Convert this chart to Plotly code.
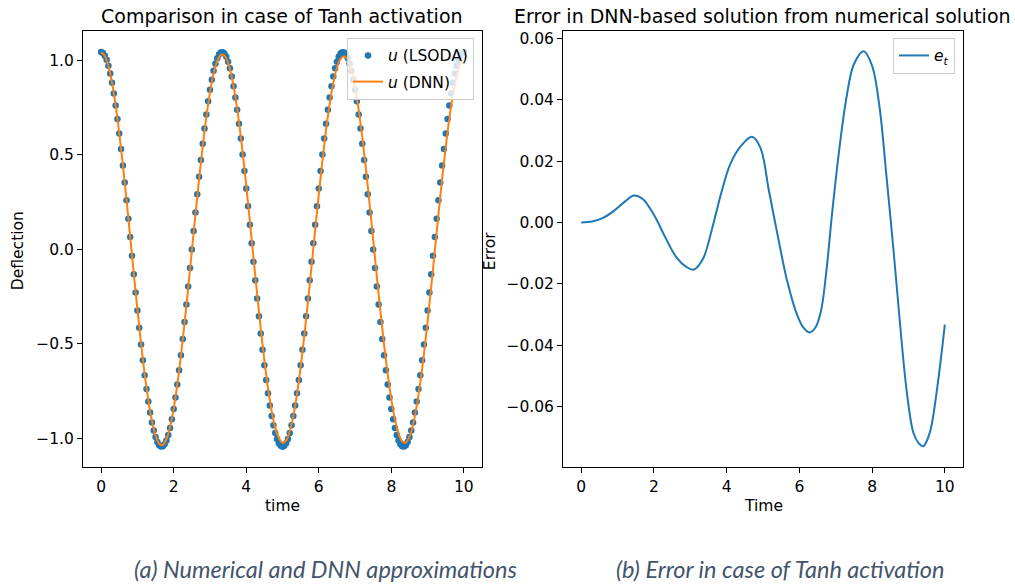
import numpy as np
import plotly.graph_objects as go

# ---------------- data ----------------
t_lsoda = np.linspace(0, 10, 201)
u_lsoda = [
    1.045, 1.040, 1.026, 1.004, 0.972, 0.931, 0.882, 0.826, 0.762, 0.691,
    0.614, 0.532, 0.445, 0.354, 0.260, 0.163, 0.066, -0.033, -0.131, -0.228,
    -0.323, -0.415, -0.503, -0.587, -0.666, -0.739, -0.805, -0.864, -0.916, -0.959,
    -0.994, -1.020, -1.037, -1.044, -1.043, -1.032, -1.012, -0.983, -0.946, -0.899,
    -0.845, -0.784, -0.715, -0.640, -0.560, -0.474, -0.385, -0.292, -0.196, -0.098,
    0.000, 0.098, 0.196, 0.292, 0.385, 0.474, 0.560, 0.640, 0.715, 0.784,
    0.845, 0.899, 0.946, 0.983, 1.012, 1.032, 1.043, 1.044, 1.037, 1.020,
    0.994, 0.959, 0.916, 0.864, 0.805, 0.739, 0.666, 0.587, 0.503, 0.415,
    0.323, 0.228, 0.131, 0.033, -0.066, -0.163, -0.260, -0.354, -0.445, -0.532,
    -0.614, -0.691, -0.762, -0.826, -0.882, -0.931, -0.972, -1.004, -1.026, -1.040,
    -1.045,
    -1.040, -1.026, -1.004, -0.972, -0.931, -0.882, -0.826, -0.762, -0.691, -0.614,
    -0.532, -0.445, -0.354, -0.260, -0.163, -0.066, 0.033, 0.131, 0.228, 0.323,
    0.415, 0.503, 0.587, 0.666, 0.739, 0.805, 0.864, 0.916, 0.959, 0.994,
    1.020, 1.037, 1.044, 1.043, 1.032, 1.012, 0.983, 0.946, 0.899, 0.845,
    0.784, 0.715, 0.640, 0.560, 0.474, 0.385, 0.292, 0.196, 0.098, 0.000,
    -0.098, -0.196, -0.292, -0.385, -0.474, -0.560, -0.640, -0.715, -0.784, -0.845,
    -0.899, -0.946, -0.983, -1.012, -1.032, -1.043, -1.044, -1.037, -1.020, -0.994,
    -0.959, -0.916, -0.864, -0.805, -0.739, -0.666, -0.587, -0.503, -0.415, -0.323,
    -0.228, -0.131, -0.033, 0.066, 0.163, 0.260, 0.354, 0.445, 0.532, 0.614,
    0.691, 0.762, 0.826, 0.882, 0.931, 0.972, 1.004, 1.026, 1.040, 1.045,
]

t_dnn = np.linspace(0, 10, 101)
u_dnn = [
    1.045, 1.026, 0.972, 0.882, 0.763, 0.615, 0.447, 0.262, 0.069, -0.127,
    -0.318, -0.497, -0.659, -0.797, -0.907, -0.985, -1.029, -1.035, -1.006, -0.942,
    -0.843, -0.715, -0.562, -0.390, -0.203, -0.009, 0.185, 0.372, 0.546, 0.700,
    0.830, 0.931, 0.997, 1.031, 1.027, 0.988, 0.914, 0.808, 0.674, 0.515,
    0.339, 0.150, -0.044, -0.236, -0.420, -0.588, -0.735, -0.855, -0.945, -0.998,
    -1.024, -1.012, -0.964, -0.880, -0.766, -0.624, -0.461, -0.281, -0.091, 0.102,
    0.291, 0.469, 0.631, 0.769, 0.881, 0.962, 1.009, 1.023, 1.003, 0.949,
    0.859, 0.739, 0.593, 0.426, 0.243, 0.052, -0.142, -0.329, -0.504, -0.661,
    -0.794, -0.901, -0.974, -1.016, -1.023, -0.992, -0.927, -0.829, -0.703, -0.553,
    -0.382, -0.198, -0.005, 0.188, 0.372, 0.543, 0.694, 0.821, 0.919, 0.982,
    1.012,
]

t_err = [0.0, 0.3, 0.6, 0.9, 1.2, 1.45, 1.7, 2.0, 2.3, 2.6, 2.9, 3.1, 3.35, 3.6,
         3.85, 4.1, 4.4, 4.7, 4.93, 5.16, 5.4, 5.66, 5.93, 6.1, 6.27, 6.45, 6.6,
         6.75, 6.9, 7.1, 7.3, 7.5, 7.77, 8.0, 8.2, 8.4, 8.6, 8.78, 8.96, 9.14,
         9.28, 9.4, 9.5, 9.62, 9.8, 10.0]
e_t = [0.0, 0.0003, 0.0015, 0.0038, 0.0068, 0.0088, 0.0076, 0.0025, -0.0045,
       -0.011, -0.0145, -0.0153, -0.0118, -0.002, 0.0095, 0.019, 0.025, 0.0279,
       0.0243, 0.0105, -0.004, -0.0188, -0.0298, -0.034, -0.0358, -0.034,
       -0.0285, -0.015, 0.003, 0.024, 0.041, 0.0515, 0.0557, 0.051, 0.038,
       0.0145, -0.0105, -0.0345, -0.0557, -0.0686, -0.0718, -0.0728, -0.0712,
       -0.0668, -0.053, -0.0332]

left_yticks = [-1.0, -0.5, 0.0, 0.5, 1.0]
right_yticks = [-0.06, -0.04, -0.02, 0.0, 0.02, 0.04, 0.06]
xticks = [0, 2, 4, 6, 8, 10]

# ---------------- figure ----------------
W, H = 1015, 588
BLUE, ORANGE = "#1f77b4", "#ff7f0e"
FONT = "DejaVu Sans"

def px(x):
    return x / W

def py(y):
    return 1 - y / H

fig = go.Figure()
fig.add_trace(go.Scatter(x=t_lsoda, y=u_lsoda, mode="markers",
                         marker=dict(color=BLUE, size=6.5),
                         name="<i>u</i> (LSODA)", xaxis="x", yaxis="y",
                         legend="legend", legendgroup="a"))
fig.add_trace(go.Scatter(x=t_dnn, y=u_dnn, mode="lines",
                         line=dict(color=ORANGE, width=2, shape="spline"),
                         name="<i>u</i> (DNN)", xaxis="x", yaxis="y",
                         legend="legend", legendgroup="b"))
fig.add_trace(go.Scatter(x=t_err, y=e_t, mode="lines",
                         line=dict(color=BLUE, width=2, shape="spline", smoothing=1.0),
                         name="<i>e</i><sub><i>t</i></sub>", xaxis="x2", yaxis="y2",
                         legend="legend2"))

axis_common = dict(showgrid=False, zeroline=False, showline=True, mirror=True,
                   linecolor="black", linewidth=1, ticks="outside", ticklen=5,
                   tickwidth=1, tickcolor="black",
                   tickfont=dict(family=FONT, size=15.5, color="black"))

y_dom = [py(467), py(29.5)]
fig.update_layout(
    width=W, height=H,
    margin=dict(l=0, r=0, t=0, b=0),
    paper_bgcolor="white", plot_bgcolor="white",
    font=dict(family=FONT, size=15.5, color="black"),
    xaxis=dict(domain=[px(83), px(482)], range=[-0.5, 10.5], tickvals=xticks,
               anchor="y", **axis_common),
    yaxis=dict(domain=y_dom, range=[-1.1545, 1.1545], tickvals=left_yticks,
               tickformat=".1f", anchor="x", **axis_common),
    xaxis2=dict(domain=[px(563), px(963)], range=[-0.5, 10.5], tickvals=xticks,
                anchor="y2", **axis_common),
    yaxis2=dict(domain=y_dom, range=[-0.0797, 0.0622], tickvals=right_yticks,
                tickformat=".2f", anchor="x2", **axis_common),
    legend=dict(x=px(474), y=py(36), xanchor="right", yanchor="top",
                bgcolor="rgba(255,255,255,0.8)", bordercolor="#cccccc",
                borderwidth=1, font=dict(family=FONT, size=15.5),
                tracegroupgap=3, traceorder="grouped"),
    legend2=dict(x=px(955), y=py(36), xanchor="right", yanchor="top",
                 bgcolor="rgba(255,255,255,0.8)", bordercolor="#cccccc",
                 borderwidth=1, font=dict(family=FONT, size=15.5)),
    showlegend=True,
)

ann = []
def add_text(text, x, y, size=15.5, angle=0, family=FONT, color="black"):
    ann.append(dict(text=text, x=px(x), y=py(y), xref="paper", yref="paper",
                    xanchor="center", yanchor="middle", showarrow=False,
                    textangle=angle, font=dict(family=family, size=size, color=color)))

add_text("Comparison in case of Tanh activation", 282, 14, size=19)
add_text("Error in DNN-based solution from numerical solution", 762, 14, size=19)
add_text("time", 282, 506)
add_text("Time", 763, 506)
add_text("Deflection", 18, 250, angle=-90)
add_text("Error", 490, 250, angle=-90)
add_text("<i>(a) Numerical and DNN approximations</i>", 325, 569, size=23.5,
         family="Lato", color="#44546A")
add_text("<i>(b) Error in case of Tanh activation</i>", 780, 569, size=23.5,
         family="Lato", color="#44546A")
fig.update_layout(annotations=ann)

fig.write_html("out.html", config={"displayModeBar": False},
               post_script="document.body.style.margin='0';document.body.style.overflow='hidden';")
